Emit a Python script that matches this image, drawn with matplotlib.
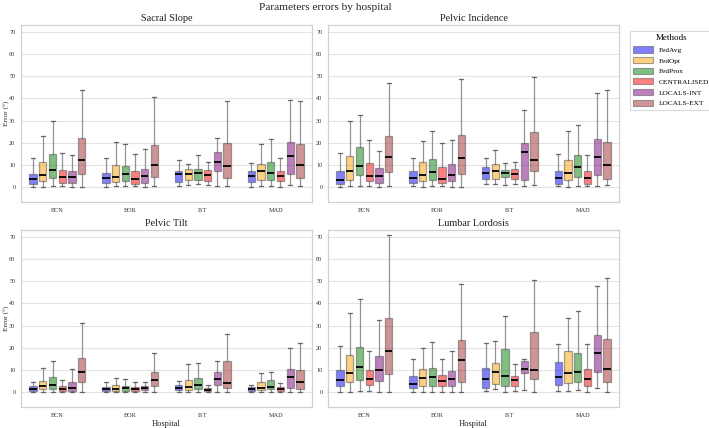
import matplotlib
matplotlib.use("Agg")
import matplotlib.pyplot as plt
from matplotlib.patches import Patch
import numpy as np

plt.rcParams['font.family'] = ['Liberation Serif', 'DejaVu Serif']

hospitals = ["BCN", "BOR", "IST", "MAD"]
methods = ["FedAvg", "FedOpt", "FedProx", "CENTRALISED", "LOCALS-INT", "LOCALS-EXT"]
colors = ["blue", "orange", "green", "red", "purple", "brown"]
panels = ["Sacral Slope", "Pelvic Incidence", "Pelvic Tilt", "Lumbar Lordosis"]

# Each entry: [whisker low, Q1, median, Q3, whisker high] per method, per hospital
sacral_slope = {
    "BCN": [[0, 1.5, 3.5, 6, 13], [0, 2.5, 5.3, 11.5, 23], [0.3, 4, 7.7, 15, 30],
            [0.3, 2, 4.4, 7.5, 15.3], [0, 2, 4.5, 7, 14.3], [0, 5.8, 12, 22, 44]],
    "BOR": [[0, 2, 4.2, 6.3, 13.2], [0.3, 2.3, 4.4, 9.8, 20.3], [0.3, 2.5, 5.7, 9.5, 19.5],
            [0.3, 1.5, 3.8, 7, 14.8], [0, 2, 4.8, 8.3, 17], [0.3, 4.3, 10, 19, 40.7]],
    "IST": [[0.5, 2.2, 5.7, 7.4, 12.3], [1, 3, 6, 8, 10.5], [1.3, 3.2, 6.2, 8.2, 14.3],
            [0.8, 2.8, 5.2, 7.6, 11.2], [0.3, 7.4, 11.2, 15.7, 22], [0.3, 3.9, 9.4, 20, 39]],
    "MAD": [[0, 2.3, 4.8, 7.2, 10.7], [0.3, 3.2, 7.1, 10.5, 19.3], [0.3, 3.2, 6.2, 11.5, 21.7],
            [0, 2.5, 4.8, 7.2, 13.2], [0.8, 5.7, 13.9, 20.3, 39.2], [0.3, 3.9, 10, 19.2, 38.7]],
}
pelvic_incidence = {
    "BCN": [[0, 1.5, 3.2, 7.2, 15.3], [0.3, 3, 7, 14, 29.6], [0.3, 5.2, 9.4, 18, 32.7],
            [0.3, 2.5, 5, 10.7, 21], [0, 2, 4.8, 8.5, 16.2], [0.3, 6.8, 13.7, 23, 47]],
    "BOR": [[0.3, 2, 4.2, 7.4, 13], [0, 2.7, 5.3, 11.3, 20.6], [0.3, 3, 6.7, 12.5, 25.2],
            [0.3, 1.7, 3.5, 9.2, 20], [0, 2.5, 5.3, 10.2, 21.3], [0, 5.7, 13.3, 23.3, 48.7]],
    "IST": [[1.3, 3.5, 6.1, 9, 13], [1.3, 3.5, 7.1, 10.5, 16.8], [0.7, 4.3, 6.1, 7.8, 10.8],
            [1.3, 3.6, 5.8, 8, 11.2], [0.3, 3.3, 16, 20, 35], [0.7, 7, 12, 24.8, 49.8]],
    "MAD": [[0.3, 1.5, 3.9, 7.2, 14.8], [0, 3, 6.3, 12, 25.2], [0.3, 4.5, 9, 14.4, 27.8],
            [0.5, 1.5, 3.9, 7, 14.3], [0.3, 5.5, 13.7, 21.5, 42.4], [0.7, 3.8, 9.8, 20.2, 43.7]],
}
pelvic_tilt = {
    "BCN": [[0, 0.5, 1.3, 2.6, 4.5], [0, 1.2, 2.8, 4.9, 10.9], [0, 1.3, 3.2, 6.7, 14],
            [0, 0.5, 1.3, 2.8, 5.4], [0, 0.6, 1.6, 4.7, 10.2], [0, 4.3, 8.8, 15.2, 31.3]],
    "BOR": [[0, 0.5, 1.3, 2.3, 4.5], [0, 0.6, 1.5, 3, 6.4], [0, 0.6, 1.8, 2.9, 5.9],
            [0, 0.4, 1.2, 2.2, 4.3], [0, 1, 1.8, 2.7, 4.6], [0, 2.5, 5.5, 9, 17.8]],
    "IST": [[0, 0.7, 1.6, 3, 5], [0, 0.7, 2.4, 5.6, 12.8], [0, 1.2, 3.2, 6.5, 13],
            [0, 0.3, 0.9, 2, 3.2], [0, 3.2, 5.8, 8.8, 14.2], [0, 1.8, 4, 14, 26]],
    "MAD": [[0, 0.5, 1.2, 2.3, 3.2], [0, 1, 1.8, 4.6, 8.6], [0, 1.5, 2.4, 5.4, 8.8],
            [0, 0.4, 1.2, 2.4, 4.1], [0, 1.8, 6.6, 10.6, 19.7], [0, 1.3, 4.5, 9.7, 22]],
}
lumbar_lordosis = {
    "BCN": [[0, 2.5, 5.4, 10, 20.7], [0, 4.3, 8.7, 16.8, 35.5], [0.3, 5.3, 11.3, 20.5, 41.8],
            [0.3, 3, 5.8, 9.8, 18.6], [0, 4.8, 9.8, 16.3, 32.3], [0, 8, 18.6, 33.5, 71]],
    "BOR": [[0, 2, 3.8, 7.3, 14.8], [0, 2.7, 6.3, 10.6, 19.7], [0, 2.7, 6.8, 11, 22.6],
            [0, 2.7, 5, 7.8, 15], [0, 2.6, 5.8, 9.5, 18.6], [0, 4.5, 14.3, 23.6, 48.6]],
    "IST": [[0.6, 2, 5.8, 10.9, 22.3], [1.3, 3.5, 9, 13, 23.2], [0, 2.6, 7.2, 19.6, 34.2],
            [0.3, 2.6, 5.3, 7.4, 12.8], [0.8, 8.7, 10.3, 14, 15], [0, 5.7, 10, 27, 50.7]],
    "MAD": [[0.6, 3, 6.7, 13.7, 21.8], [0.3, 4.2, 8.7, 18.3, 33.6], [1, 4.5, 9, 17.4, 36.4],
            [0, 2.6, 5.8, 10.6, 21.8], [1.8, 9, 17.6, 25.6, 47.7], [0, 4.4, 10.5, 23.8, 51.3]],
}
panel_data = [sacral_slope, pelvic_incidence, pelvic_tilt, lumbar_lordosis]

W, H = 709, 428
fig = plt.figure(figsize=(W / 100, H / 100), dpi=100)

def rect(l, t, r, b):
    return [l / W, 1 - b / H, (r - l) / W, (b - t) / H]

rects = [rect(21, 25, 312, 202), rect(328, 25, 619, 202),
         rect(21, 230, 312, 407), rect(328, 230, 619, 407)]

slot = 0.8 / len(methods)
bw = 0.1
grid_c = "#e3e3e3"
spine_c = "#d0d0d0"

for i, (title, data) in enumerate(zip(panels, panel_data)):
    ax = fig.add_axes(rects[i])
    ax.set_axisbelow(True)
    for h_i, hosp in enumerate(hospitals):
        for m_i, (meth, col) in enumerate(zip(methods, colors)):
            lo, q1, med, q3, hi = data[hosp][m_i]
            pos = h_i - 0.4 + slot * (m_i + 0.5)
            st = [dict(whislo=lo, q1=q1, med=med, q3=q3, whishi=hi, fliers=[])]
            ax.bxp(st, positions=[pos], widths=bw, patch_artist=True, showfliers=False,
                   capwidths=bw * 0.55, manage_ticks=False,
                   boxprops=dict(facecolor=matplotlib.colors.to_rgba(col, 0.5),
                                 edgecolor=(0.35, 0.35, 0.35, 0.55), linewidth=0.9),
                   whiskerprops=dict(color=(0.35, 0.35, 0.35, 0.65), linewidth=0.9),
                   capprops=dict(color=(0.3, 0.3, 0.3, 0.8), linewidth=0.9),
                   medianprops=dict(color="black", linewidth=1.3))
    ax.set_xlim(-0.5, 3.5)
    ax.set_ylim(-6.8, 73.2)
    ax.set_xticks(range(len(hospitals)))
    ax.set_xticklabels(hospitals)
    ax.set_yticks(np.arange(0, 71, 10))
    ax.yaxis.grid(True, color=grid_c, linewidth=0.8)
    ax.xaxis.grid(False)
    ax.tick_params(axis='both', length=0, labelsize=4.5, colors="#333333", pad=4)
    for s in ax.spines.values():
        s.set_color(spine_c)
        s.set_linewidth(0.9)
    ax.set_title(title, fontsize=7.4, pad=3, color="#222222")
    if i % 2 == 0:
        ax.set_ylabel("Error (°)", fontsize=5.3, color="#222222")
        ax.yaxis.set_label_coords(-11 / 291, 0.5)
    if i >= 2:
        ax.set_xlabel("Hospital", fontsize=6, labelpad=1.5, color="#222222")

fig.suptitle("Parameters errors by hospital", fontsize=8.2, x=325 / W, y=1 - 7 / H,
             va="center", color="#222222")

handles = [Patch(facecolor=matplotlib.colors.to_rgba(c, 0.5),
                 edgecolor=(0.35, 0.35, 0.35, 0.55), linewidth=0.8) for c in colors]
leg = fig.legend(handles, methods, title="Methods", loc="upper left",
                 bbox_to_anchor=(626 / W, 1 - 27 / H), fontsize=5.3, title_fontsize=6.5,
                 frameon=True, handlelength=2.6, handleheight=0.9, labelspacing=0.55,
                 borderpad=0.5, handletextpad=0.9, fancybox=False)
leg.get_frame().set_edgecolor("#d0d0d0")
leg.get_frame().set_linewidth(0.8)

fig.savefig("out.png", dpi=100)
